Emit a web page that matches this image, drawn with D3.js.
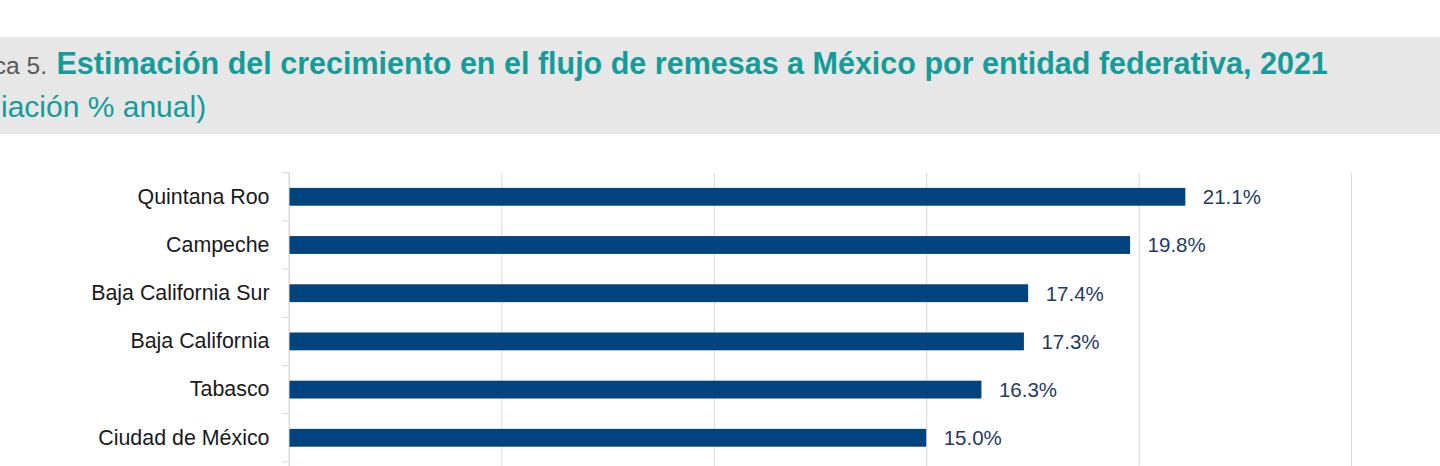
<!DOCTYPE html>
<html>
<head>
<meta charset="utf-8">
<script src="https://cdn.jsdelivr.net/npm/d3@7"></script>
<style>
  html, body { margin: 0; padding: 0; background: #fff; overflow: hidden; }
  svg { display: block; }
  text { font-family: "Liberation Sans", Arial, sans-serif; }
</style>
</head>
<body>
<svg id="chart" width="1440" height="466"></svg>
<script>
const categories = ["Quintana Roo", "Campeche", "Baja California Sur", "Baja California", "Tabasco", "Ciudad de México"];
const values = [21.1, 19.8, 17.4, 17.3, 16.3, 15.0];
const xTicks = [0, 5, 10, 15, 20, 25];
const titleNumber = "Gráfica 5.";
const titleMain = "Estimación del crecimiento en el flujo de remesas a México por entidad federativa, 2021";
const subtitleHidden = "(Var";
const subtitleVisible = "iación % anual)";

const W = 1440, H = 466;
const svg = d3.select("#chart");

// title band
svg.append("rect").attr("x", 0).attr("y", 37).attr("width", W).attr("height", 97).attr("fill", "#E7E7E7");

svg.append("text").attr("x", 47).attr("y", 73.8).attr("text-anchor", "end")
  .attr("font-size", 24.5).attr("fill", "#595959").text(titleNumber);
svg.append("text").attr("x", 56.5).attr("y", 74)
  .attr("font-size", 30.5).attr("font-weight", "bold").attr("fill", "#159C98").text(titleMain);
svg.append("text").attr("x", -0.5).attr("y", 116.5).attr("text-anchor", "end")
  .attr("font-size", 30).attr("fill", "#159C98").text(subtitleHidden);
svg.append("text").attr("x", 1).attr("y", 116.5)
  .attr("font-size", 30).attr("fill", "#159C98").text(subtitleVisible);

// scales
const x = d3.scaleLinear().domain([0, 25]).range([289, 1351]);
const plotTop = 172.7, step = 48.2;
const y = d3.scaleBand().domain(categories)
  .range([plotTop, plotTop + step * categories.length])
  .paddingInner(0.63).paddingOuter(0.315);

// gridlines
const grid = svg.append("g").attr("transform", `translate(0,${plotTop})`)
  .call(d3.axisBottom(x).tickValues(xTicks).tickSize(H - plotTop).tickFormat(""));
grid.select(".domain").remove();
grid.selectAll(".tick line").attr("stroke", "#D9D9D9").attr("stroke-width", 1);

// category axis
const yAxis = svg.append("g").attr("transform", `translate(${x(0)},0)`)
  .call(d3.axisLeft(y).tickSize(0).tickPadding(19.5));
yAxis.select(".domain").remove();
yAxis.selectAll(".tick text").attr("font-size", 21.4).attr("fill", "#1a1a1a")
  .attr("font-family", "'Liberation Sans', Arial, sans-serif");

svg.append("line").attr("x1", x(0)).attr("x2", x(0)).attr("y1", plotTop).attr("y2", H)
  .attr("stroke", "#D9D9D9").attr("stroke-width", 1);

const boundaries = d3.range(categories.length + 1).map(i => plotTop + i * y.step());
svg.append("g").selectAll("line").data(boundaries).join("line")
  .attr("x1", x(0) - 7).attr("x2", x(0)).attr("y1", d => d).attr("y2", d => d)
  .attr("stroke", "#D9D9D9").attr("stroke-width", 1);

// bars
const rows = categories.map((c, i) => ({ c, v: values[i] }));
svg.append("g").selectAll("rect").data(rows).join("rect")
  .attr("x", x(0) + 0.5)
  .attr("y", d => y(d.c))
  .attr("width", d => x(d.v) - x(0) - 0.5)
  .attr("height", y.bandwidth())
  .attr("fill", "#00437F");

// value labels
svg.append("g").selectAll("text").data(rows).join("text")
  .attr("x", d => x(d.v) + 17.5)
  .attr("y", d => y(d.c) + y.bandwidth() / 2)
  .attr("dy", "0.36em")
  .attr("font-size", 20.5)
  .attr("fill", "#1F3B63")
  .text(d => d.v.toFixed(1) + "%");
</script>
</body>
</html>
